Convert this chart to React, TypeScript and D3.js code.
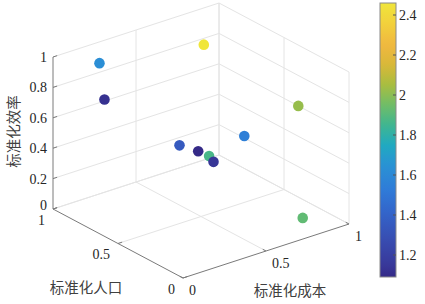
import React from 'react';
import * as d3 from 'd3';

// Data (normalized cost, normalized population, normalized efficiency, color value)
const cost = [0.28, 0.31, 0.65, 1.0, 0.8, 0.3, 0.35, 0.4, 0.45, 0.87];
const population = [1.0, 1.0, 0.67, 0.39, 0.55, 0.41, 0.33, 0.31, 0.34, 0.19];
const efficiency = [0.86, 0.61, 1.0, 0.6, 0.4, 0.58, 0.56, 0.52, 0.45, 0.0];
const colorValue = [1.63, 1.12, 2.46, 2.02, 1.55, 1.35, 1.09, 1.87, 1.14, 1.92];

const xyTicks = [0, 0.5, 1];
const zTicks = [0, 0.2, 0.4, 0.6, 0.8, 1];
const cbTicks = [1.2, 1.4, 1.6, 1.8, 2, 2.2, 2.4];

const xLabel = '标准化成本';
const yLabel = '标准化人口';
const zLabel = '标准化效率';

const cmapStops = [
  '#352a87', '#38389a', '#384cb0', '#3462c8', '#2f7ad8', '#2a92d4', '#20aac0',
  '#40b590', '#70bd68', '#a8bd40', '#d8b838', '#f0b840', '#f2cf3c', '#f0e63a',
];
const cmapPos = [0, 0.044, 0.131, 0.226, 0.314, 0.409, 0.482, 0.555, 0.628, 0.701, 0.774, 0.847, 0.92, 1];

export default function App() {
  const W = 425;
  const H = 304;
  const xs = d3.scaleLinear().domain([0, 1]).range([0, 1]);
  const ys = d3.scaleLinear().domain([0, 1]).range([0, 1]);
  const zs = d3.scaleLinear().domain([0, 1]).range([0, 1]);
  const ox = 183, oy = 278;
  const ex = [166, -54], ey = [-130, -69], ez = [0, -152];
  const P = (x: number, y: number, z: number): [number, number] => [
    ox + ex[0] * xs(x) + ey[0] * ys(y) + ez[0] * zs(z),
    oy + ex[1] * xs(x) + ey[1] * ys(y) + ez[1] * zs(z),
  ];

  const [cmin, cmax] = d3.extent(colorValue) as [number, number];
  const cNorm = d3.scaleLinear().domain([cmin, cmax]).range([0, 1]);
  const cmap = d3.scaleLinear<string>().domain(cmapPos).range(cmapStops).interpolate(d3.interpolateRgb);
  const cb = d3.scaleLinear().domain([cmin, cmax]).range([277, 3]);
  const cbX = 380, cbW = 16;

  const gridColor = '#e4e4e4';
  const axisColor = '#7a7a7a';
  const line = (a: [number, number], b: [number, number], key: string, stroke: string) => (
    <line key={key} x1={a[0]} y1={a[1]} x2={b[0]} y2={b[1]} stroke={stroke} strokeWidth={1} />
  );

  const grid: JSX.Element[] = [];
  xyTicks.forEach((t) => {
    if (t > 0) {
      grid.push(line(P(t, 0, 0), P(t, 1, 0), `fx${t}`, gridColor));
      grid.push(line(P(0, t, 0), P(1, t, 0), `fy${t}`, gridColor));
    }
  });
  zTicks.forEach((t) => grid.push(line(P(0, 1, t), P(1, 1, t), `wy${t}`, gridColor)));
  xyTicks.forEach((t) => { if (t > 0) grid.push(line(P(t, 1, 0), P(t, 1, 1), `wyv${t}`, gridColor)); });
  zTicks.forEach((t) => grid.push(line(P(1, 0, t), P(1, 1, t), `wx${t}`, gridColor)));
  xyTicks.forEach((t) => grid.push(line(P(1, t, 0), P(1, t, 1), `wxv${t}`, gridColor)));

  const axes: JSX.Element[] = [];
  axes.push(line(P(0, 0, 0), P(1, 0, 0), 'ax', axisColor));
  axes.push(line(P(0, 0, 0), P(0, 1, 0), 'ay', axisColor));
  axes.push(line(P(0, 1, 0), P(0, 1, 1), 'az', axisColor));
  const tl = 0.025;
  xyTicks.forEach((t) => {
    axes.push(line(P(t, 0, 0), P(t, tl, 0), `tx${t}`, axisColor));
    axes.push(line(P(0, t, 0), P(tl, t, 0), `ty${t}`, axisColor));
  });
  zTicks.forEach((t) => axes.push(line(P(0, 1, t), P(tl, 1, t), `tz${t}`, axisColor)));

  const serif = 'Liberation Serif, Times New Roman, serif';
  const cjk = 'Noto Sans CJK SC, sans-serif';
  const fs = 14;

  const order = d3.range(cost.length);

  return (
    <svg width={W} height={H} style={{ position: 'absolute', left: 0, top: 0, background: '#fff' }}>
      <defs>
        <linearGradient id="cbgrad" x1="0" y1="1" x2="0" y2="0">
          {d3.range(0, 1.0001, 0.02).map((t) => (
            <stop key={t} offset={`${t * 100}%`} stopColor={cmap(t)} />
          ))}
        </linearGradient>
      </defs>
      <rect x={0} y={0} width={W} height={H} fill="#fff" />
      <g>{grid}</g>
      <g>{axes}</g>
      <g style={{ fontFamily: serif }}>
        {zTicks.map((t) => {
          const [px, py] = P(0, 1, t);
          return (
            <text key={`zl${t}`} x={px - 6} y={py - (t === 0 ? 4 : 0)} dy="0.35em" textAnchor="end" fontSize={fs} fill="#262626">
              {String(t)}
            </text>
          );
        })}
        {xyTicks.map((t) => {
          const [px, py] = P(0, t, 0);
          return (
            <text key={`yl${t}`} x={px - 8} y={py + 11} dy="0.35em" textAnchor="end" fontSize={fs} fill="#262626">
              {String(t)}
            </text>
          );
        })}
        {xyTicks.map((t) => {
          const [px, py] = P(t, 0, 0);
          return (
            <text key={`xl${t}`} x={px + 6} y={py + 12} dy="0.35em" textAnchor="start" fontSize={fs} fill="#262626">
              {String(t)}
            </text>
          );
        })}
        {cbTicks.map((t) => (
          <text key={`cbl${t}`} x={cbX + cbW + 3} y={cb(t)} dy="0.35em" fontSize={fs} fill="#262626">{String(t)}</text>
        ))}
      </g>
      <g style={{ fontFamily: cjk }}>
        <text x={290} y={291} dy="0.35em" textAnchor="middle" fontSize={14.5} fill="#404040">{xLabel}</text>
        <text x={86} y={288} dy="0.35em" textAnchor="middle" fontSize={14.5} fill="#404040">{yLabel}</text>
        <text transform="translate(13.5,131.5) rotate(-90)" dy="0.35em" textAnchor="middle" fontSize={14.5} fill="#404040">{zLabel}</text>
      </g>
      {order.map((i) => {
        const [px, py] = P(cost[i], population[i], efficiency[i]);
        return <circle key={`p${i}`} cx={px} cy={py} r={5.3} fill={cmap(cNorm(colorValue[i]))} />;
      })}
      <rect x={cbX} y={cb(cmax)} width={cbW} height={cb(cmin) - cb(cmax)} fill="url(#cbgrad)" stroke="#8a8a8a" strokeWidth={1} />
      {cbTicks.map((t) => (
        <line key={`cbt${t}`} x1={cbX + cbW - 3} x2={cbX + cbW} y1={cb(t)} y2={cb(t)} stroke="#555" strokeWidth={1} />
      ))}
    </svg>
  );
}
